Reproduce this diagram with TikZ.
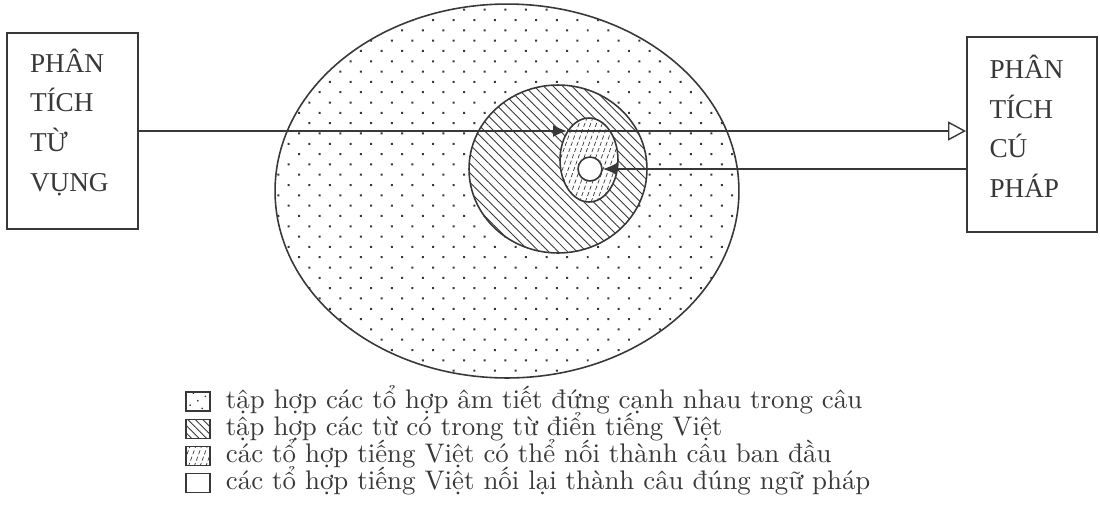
\documentclass[tikz,border=0pt]{standalone}
\usepackage{fontspec}
\newfontfamily\stagefont{Liberation Serif}
\newfontfamily\keyfont{lmroman10-regular.otf}
\usepackage{tikz}
\usetikzlibrary{arrows.meta,positioning,calc,shapes.geometric,patterns.meta}

\colorlet{ink}{black!78}

\tikzset{
  stage node/.style={
    rectangle,
    draw=ink,
    fill=white,
    line width=1.1pt,
    minimum width=2.62cm,
    minimum height=3.92cm,
    text width=1.7cm,
    align=left,
    text=ink,
    font=\stagefont\fontsize{15.5}{22.5}\selectfont
  }
}
\tikzset{
  syllable set/.style={
    ellipse,
    draw=ink,
    line width=0.9pt,
    inner sep=0pt,
    pattern={Dots[distance=8.3pt,angle=45,radius=0.8pt]},
    pattern color=ink
  }
}
\tikzset{
  word set/.style={
    ellipse,
    draw=ink,
    line width=0.9pt,
    inner sep=0pt,
    preaction={fill=white},
    pattern={Lines[angle=-45,distance=3.8pt,line width=0.5pt]},
    pattern color=ink
  }
}
\tikzset{
  draft set/.style={
    ellipse,
    draw=ink,
    line width=0.9pt,
    inner sep=0pt,
    fill=white,
    path picture={
      \foreach \k in {-14,...,14} {
        \draw[ink, line width=0.4pt, dash pattern=on 2.4pt off 1.4pt]
          ([xshift=\k*3.3pt]path picture bounding box.center)
          +(250:1.3cm) -- +(70:1.3cm);
      }
    }
  }
}
\tikzset{
  grammar set/.style={
    circle,
    draw=ink,
    line width=0.9pt,
    fill=white,
    inner sep=0pt,
    minimum size=0.48cm
  }
}
\tikzset{
  key box/.style={
    rectangle,
    draw=ink,
    line width=0.7pt,
    inner sep=0pt,
    minimum width=0.48cm,
    minimum height=0.38cm
  }
}
\tikzset{
  key text/.style={
    anchor=west,
    inner sep=0pt,
    text height=7.4pt,
    text depth=0pt,
    text=ink,
    font=\keyfont\fontsize{15.3}{18}\selectfont
  }
}
\tikzset{
  flow/.style={
    -{Latex[length=2.8mm,width=2.4mm]},
    draw=ink,
    line width=0.8pt
  }
}
\tikzset{
  handoff/.style={
    -{Triangle[open,length=3.6mm,width=3.8mm]},
    draw=ink,
    line width=0.8pt
  }
}

\begin{document}
\begin{tikzpicture}[x=0.02cm,y=-0.02cm]

    \useasboundingbox (0,0) rectangle (1100,515);

    % ------------------------------------------------------------
    % Stages
    % ------------------------------------------------------------

    \node[stage node] (lex) at (72.5,131)
    {
      PHÂN\\TÍCH\\TỪ\\VỤNG\\[-10pt]\mbox{}
    };

    \node[stage node, minimum width=2.6cm, minimum height=3.9cm] (syn) at (1032,134.5)
    {
      PHÂN\\TÍCH\\CÚ\\PHÁP\\[-13pt]\mbox{}
    };

    % ------------------------------------------------------------
    % Nested sets
    % ------------------------------------------------------------

    \node[syllable set, minimum width=9.28cm, minimum height=7.48cm] (syllables) at (507,191) {};

    \node[word set, minimum width=3.56cm, minimum height=3.36cm] (words) at (558,169) {};

    \node[draft set, minimum width=1.16cm, minimum height=1.68cm] (bud) at (589,160) {};

    % sentences that pass the grammar
    \node[grammar set] (core) at (590,169) {};

    % ------------------------------------------------------------
    % Flow
    % ------------------------------------------------------------

    \coordinate (entry) at (567,131);

    \draw[flow]
      (lex.east)
      --
      (entry);

    \draw[handoff]
      (entry)
      --
      (entry -| syn.west);

    \draw[flow]
      (syn.west |- core.east)
      --
      (core.east);

    % ------------------------------------------------------------
    % Legend
    % ------------------------------------------------------------

    \node[key box, pattern={Dots[distance=5pt,angle=30,radius=0.55pt]}, pattern color=ink] (keyA) at (198,401.5) {};
    \node[key box, pattern={Lines[angle=-45,distance=3pt,line width=0.5pt]}, pattern color=ink] (keyB) at (198,429) {};
    \node[key box, draft set, rectangle, line width=0.7pt, minimum width=0.48cm, minimum height=0.38cm] (keyC) at (198,456) {};
    \node[key box] (keyD) at (198,483) {};

    \node[key text, right=0.3cm of keyA] {tập hợp các tổ hợp âm tiết đứng cạnh nhau trong câu};
    \node[key text, right=0.3cm of keyB] {tập hợp các từ có trong từ điển tiếng Việt};
    \node[key text, right=0.3cm of keyC] {các tổ hợp tiếng Việt có thể nối thành câu ban đầu};
    \node[key text, right=0.3cm of keyD] {các tổ hợp tiếng Việt nối lại thành câu đúng ngữ pháp};

\end{tikzpicture}
\end{document}
